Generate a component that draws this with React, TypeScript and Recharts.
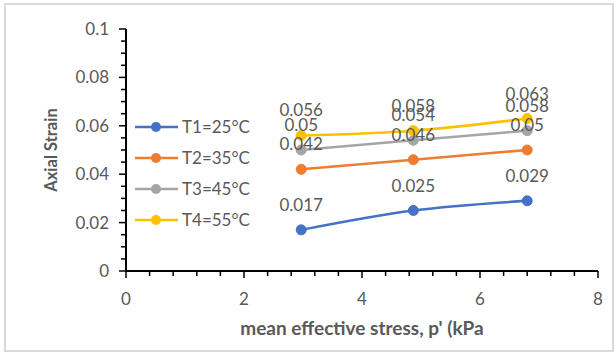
import React from 'react';
import { LineChart, Line, XAxis, YAxis, LabelList } from 'recharts';

const meanStress = [2.97, 4.87, 6.8];
const t1 = [0.017, 0.025, 0.029];
const t2 = [0.042, 0.046, 0.05];
const t3 = [0.05, 0.054, 0.058];
const t4 = [0.056, 0.058, 0.063];

const seriesNames = ['T1=25°C', 'T2=35°C', 'T3=45°C', 'T4=55°C'];
const seriesColors = ['#4472C4', '#ED7D31', '#A5A5A5', '#FFC000'];

const yMajor = [0, 0.02, 0.04, 0.06, 0.08, 0.1];
const xMajor = [0, 2, 4, 6, 8];
const yTicks = Array.from({ length: 21 }, (_, i) => +(i * 0.005).toFixed(3));
const xTicks = Array.from({ length: 21 }, (_, i) => +(i * 0.4).toFixed(1));

const data = meanStress.map((p, i) => ({ p, s1: t1[i], s2: t2[i], s3: t3[i], s4: t4[i] }));

const FONT = 'Lato, "Open Sans", sans-serif';
const GREY = '#595959';

const isMajor = (v: number, list: number[]) => list.some((m) => Math.abs(m - v) < 1e-6);

const YTick = (props: any) => {
  const { x, y, payload } = props;
  const major = isMajor(payload.value, yMajor);
  return (
    <g>
      <line x1={x} x2={x - (major ? 7 : 5)} y1={y} y2={y} stroke="#000" strokeWidth={1.5} />
      {major && (
        <text x={x - 17} y={y} dy={6} textAnchor="end" fill={GREY} fontSize={17} fontFamily={FONT}>
          {payload.value}
        </text>
      )}
    </g>
  );
};

const XTick = (props: any) => {
  const { x, y, payload } = props;
  const major = isMajor(payload.value, xMajor);
  return (
    <g>
      <line x1={x} x2={x} y1={y} y2={y + (major ? 7 : 5)} stroke="#000" strokeWidth={1.5} />
      {major && (
        <text x={x} y={y + 34} textAnchor="middle" fill={GREY} fontSize={17} fontFamily={FONT}>
          {payload.value}
        </text>
      )}
    </g>
  );
};

const LegendBox = () => (
  <svg width={130} height={130} style={{ position: 'absolute', left: 135, top: 117 }}>
    {seriesNames.map((name, i) => (
      <g key={name} transform={`translate(0, ${i * 31 + 10})`}>
        <line x1={0} x2={43} y1={0} y2={0} stroke={seriesColors[i]} strokeWidth={2.5} />
        <circle cx={21} cy={0} r={5} fill={seriesColors[i]} />
        <text x={47} y={6} fill={GREY} fontSize={17} fontFamily={FONT}>
          {name}
        </text>
      </g>
    ))}
  </svg>
);

export default function App() {
  return (
    <div style={{ position: 'absolute', left: 0, top: 0, width: 616, height: 352, background: '#fff' }}>
      <div
        style={{
          position: 'absolute',
          left: 4,
          top: 3,
          width: 606,
          height: 345,
          border: '2px solid #D9D9D9',
        }}
      />
      <LineChart
        width={616}
        height={352}
        data={data}
        margin={{ top: 29, right: 18, left: 46, bottom: 11 }}
        style={{ position: 'absolute', left: 0, top: 0 }}
      >
        <XAxis
          type="number"
          dataKey="p"
          domain={[0, 8]}
          ticks={xTicks}
          interval={0}
          height={70}
          tickSize={0}
          tickMargin={0}
          tick={<XTick />}
          axisLine={{ stroke: '#000', strokeWidth: 2 }}
          label={{
            value: "mean effective stress, p' (kPa",
            position: 'insideBottom',
            offset: 6,
            style: { fill: GREY, fontSize: 19, fontWeight: 700, fontFamily: FONT },
          }}
        />
        <YAxis
          type="number"
          domain={[0, 0.1]}
          ticks={yTicks}
          interval={0}
          width={80}
          tickSize={0}
          tickMargin={0}
          tick={<YTick />}
          axisLine={{ stroke: '#000', strokeWidth: 2 }}
          label={{
            value: 'Axial Strain',
            angle: -90,
            position: 'insideLeft',
            offset: 11,
            dx: -6,
            style: { fill: GREY, fontSize: 16.5, fontWeight: 700, fontFamily: FONT, textAnchor: 'middle' },
          }}
        />
        {['s1', 's2', 's3', 's4'].map((key, i) => (
          <Line
            key={key}
            type="monotone"
            dataKey={key}
            name={seriesNames[i]}
            stroke={seriesColors[i]}
            strokeWidth={2.5}
            dot={{ r: 5, fill: seriesColors[i], stroke: seriesColors[i], strokeWidth: 1 }}
            isAnimationActive={false}
          >
            <LabelList
              dataKey={key}
              position="top"
              offset={19}
              fill={GREY}
              fontSize={17}
              fontFamily={FONT}
            />
          </Line>
        ))}
      </LineChart>
      <LegendBox />
    </div>
  );
}
